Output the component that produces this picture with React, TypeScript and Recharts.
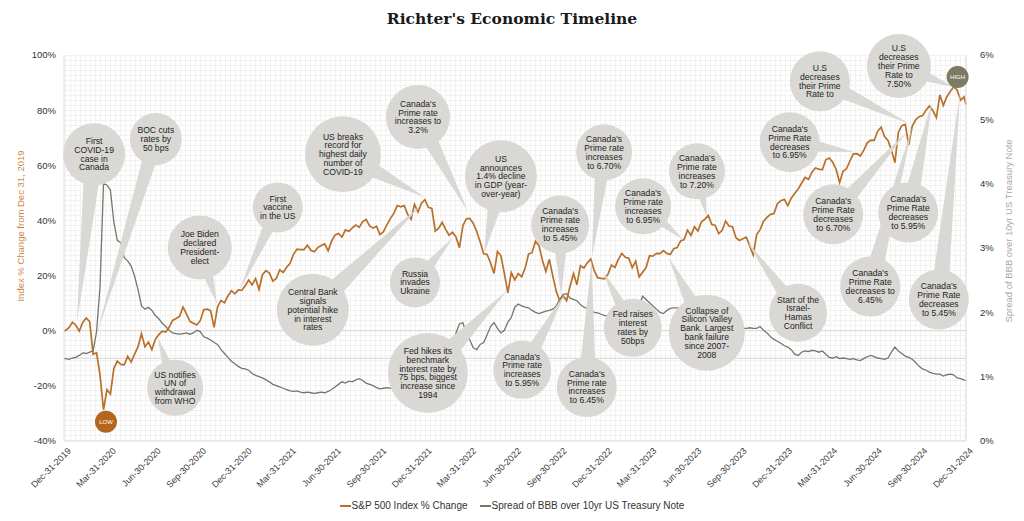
import React from 'react'
import { LineChart, Line, XAxis, YAxis, ReferenceLine, ReferenceDot, ReferenceArea } from 'recharts'

const ORANGE = '#b8702a'
const GREY = '#77756a'
const BUBBLE = '#d9d8d4'
const FONT = '"Liberation Sans", Arial, sans-serif'

const tickLabels = [
  'Dec-31-2019', 'Mar-31-2020', 'Jun-30-2020', 'Sep-30-2020', 'Dec-31-2020',
  'Mar-31-2021', 'Jun-30-2021', 'Sep-30-2021', 'Dec-31-2021', 'Mar-31-2022',
  'Jun-30-2022', 'Sep-30-2022', 'Dec-31-2022', 'Mar-31-2023', 'Jun-30-2023',
  'Sep-30-2023', 'Dec-31-2023', 'Mar-31-2024', 'Jun-30-2024', 'Sep-30-2024', 'Dec-31-2024',
]
const leftTicks = [-40, -20, 0, 20, 40, 60, 80, 100]
const rightTicks = [0, 1, 2, 3, 4, 5, 6]

const MON: Record<string, number> = { Jan: 0, Feb: 1, Mar: 2, Apr: 3, May: 4, Jun: 5, Jul: 6, Aug: 7, Sep: 8, Oct: 9, Nov: 10, Dec: 11 }
const T0 = Date.UTC(2019, 11, 31)
const toDay = (s: string) => {
  const [m, d, y] = s.split('-')
  return Math.round((Date.UTC(+y, MON[m], +d) - T0) / 86400000)
}
const tickDays = tickLabels.map(toDay)

// S&P 500 % change from Dec 31 2019, weekly (Fridays); first = Dec-31-2019, last = Dec-31-2024
const spx2020 = [0, 0.13, 1.07, 3.06, 2.0, -0.16, 3.0, 4.62, 3.31, -8.56, -8.0, -16.09, -28.66, -21.34, -22.97, -13.65, -11.03, -12.2, -12.38, -9.32, -11.36, -8.52, -5.77, -1.14, -5.86, -4.12, -6.86, -3.12, -1.42, -0.19, -0.47, 1.25, 3.73, 4.4, 5.15, 8.58, 6.07, 3.41, 2.75, 2.09, 3.64, 7.62, 7.83, 7.26, 1.21, 8.63, 10.97, 10.11, 12.62, 14.5, 13.39, 14.81, 14.62]
const spx2021 = [16.26, 18.38, 16.64, 18.9, 14.96, 20.31, 21.79, 20.92, 17.96, 18.92, 22.06, 21.12, 23.02, 24.42, 27.8, 29.55, 29.39, 29.42, 31.01, 29.19, 28.63, 30.13, 30.92, 31.47, 28.96, 32.5, 34.71, 35.25, 33.94, 36.55, 36.04, 37.32, 38.29, 37.48, 39.58, 40.38, 38.0, 37.21, 37.91, 34.86, 35.92, 38.4, 40.67, 42.55, 45.4, 44.94, 45.41, 42.21, 40.47, 45.85, 43.02, 46.27, 47.52]
const spx2022 = [44.76, 44.33, 36.13, 37.18, 39.3, 36.77, 34.61, 35.71, 33.99, 30.13, 38.14, 40.62, 40.71, 38.92, 35.96, 32.22, 27.89, 27.63, 24.55, 20.76, 28.71, 27.17, 20.74, 13.74, 21.08, 18.4, 20.69, 19.57, 22.62, 27.84, 28.3, 32.48, 30.88, 25.59, 21.46, 25.89, 19.89, 14.31, 10.98, 12.66, 10.9, 16.16, 20.75, 16.71, 23.59, 22.74, 24.62, 26.03, 21.78, 19.24, 19.01, 18.84]
const spx2023 = [20.56, 23.78, 22.96, 25.99, 28.03, 26.61, 26.26, 22.88, 25.22, 19.53, 21.23, 22.91, 27.19, 27.06, 28.07, 27.94, 29.06, 28.03, 27.65, 29.75, 30.17, 32.55, 33.06, 36.49, 34.59, 37.75, 36.16, 39.45, 40.41, 41.83, 38.61, 38.17, 35.25, 36.37, 39.77, 37.97, 37.75, 33.72, 32.72, 33.36, 33.95, 30.75, 27.44, 34.9, 36.66, 39.72, 41.12, 42.22, 42.52, 46.07, 47.17, 47.64]
const spx2024 = [45.39, 48.07, 49.8, 51.39, 53.48, 55.58, 54.93, 57.51, 59.0, 58.59, 58.38, 62.01, 62.63, 61.09, 58.58, 53.75, 57.85, 58.72, 61.65, 64.15, 64.19, 63.35, 65.5, 68.12, 69.14, 69.01, 72.32, 73.81, 70.39, 68.97, 65.49, 61.0, 71.92, 74.4, 74.83, 67.4, 74.14, 76.51, 77.61, 78.01, 79.99, 81.52, 79.77, 77.32, 85.58, 81.71, 84.77, 86.72, 88.5, 87.3, 83.57, 84.81, 82.05]

// BBB spread over 10yr UST (%), same weekly dates
const spr2020 = [1.28, 1.28, 1.27, 1.29, 1.3, 1.33, 1.37, 1.36, 1.38, 1.4, 1.7, 2.4, 4.0, 3.98, 3.9, 3.4, 3.12, 3.08, 2.85, 2.8, 2.72, 2.56, 2.35, 2.1, 2.05, 2.08, 2.03, 1.95, 1.9, 1.83, 1.78, 1.72, 1.68, 1.67, 1.66, 1.67, 1.68, 1.66, 1.68, 1.72, 1.7, 1.62, 1.6, 1.57, 1.53, 1.5, 1.42, 1.36, 1.3, 1.24, 1.2, 1.16, 1.13]
const spr2021 = [1.12, 1.1, 1.05, 1.02, 1.0, 0.98, 0.95, 0.92, 0.88, 0.86, 0.84, 0.82, 0.8, 0.78, 0.77, 0.78, 0.76, 0.75, 0.76, 0.75, 0.74, 0.75, 0.76, 0.75, 0.77, 0.8, 0.84, 0.88, 0.92, 0.9, 0.93, 0.92, 0.95, 0.97, 0.94, 0.9, 0.88, 0.86, 0.83, 0.81, 0.82, 0.83, 0.82, 0.83, 0.84, 0.85, 0.85, 0.86, 0.87, 0.86, 0.88, 0.87, 0.88]
const spr2022 = [0.9, 0.93, 0.97, 1.05, 1.15, 1.25, 1.38, 1.52, 1.68, 1.82, 1.84, 1.66, 1.57, 1.45, 1.42, 1.5, 1.53, 1.65, 1.78, 1.84, 1.75, 1.68, 1.72, 1.85, 1.92, 2.08, 2.13, 2.1, 2.08, 2.07, 2.03, 2.0, 1.98, 2.0, 2.02, 2.03, 2.05, 2.1, 2.2, 2.28, 2.29, 2.22, 2.2, 2.18, 2.12, 2.08, 2.06, 2.03, 2.0, 1.99, 1.97, 1.95]
const spr2023 = [1.95, 1.93, 1.92, 1.9, 1.88, 1.9, 1.92, 1.95, 2.0, 2.1, 2.25, 2.2, 2.15, 2.1, 2.05, 2.0, 1.98, 2.03, 2.06, 2.07, 2.07, 2.05, 2.02, 2.0, 1.97, 1.95, 1.92, 1.9, 1.88, 1.86, 1.85, 1.83, 1.82, 1.8, 1.79, 1.78, 1.77, 1.76, 1.76, 1.75, 1.75, 1.76, 1.75, 1.75, 1.78, 1.72, 1.68, 1.62, 1.58, 1.55, 1.52, 1.48]
const spr2024 = [1.46, 1.42, 1.35, 1.33, 1.38, 1.4, 1.39, 1.41, 1.4, 1.38, 1.4, 1.35, 1.3, 1.29, 1.31, 1.28, 1.29, 1.28, 1.27, 1.28, 1.26, 1.25, 1.28, 1.31, 1.33, 1.31, 1.29, 1.28, 1.27, 1.29, 1.38, 1.46, 1.4, 1.36, 1.32, 1.3, 1.27, 1.22, 1.16, 1.12, 1.1, 1.07, 1.05, 1.04, 1.04, 1.01, 1.03, 1.04, 1.03, 0.98, 0.97, 0.95, 0.94]

const spxAll = [...spx2020, ...spx2021, ...spx2022, ...spx2023, ...spx2024]
const sprAll = [...spr2020, ...spr2021, ...spr2022, ...spr2023, ...spr2024]
const lastDay = toDay('Dec-31-2024')
const data = spxAll.map((v, i) => ({
  day: i === 0 ? 0 : i === spxAll.length - 1 ? lastDay : 3 + 7 * (i - 1),
  spx: v,
  spread: sprAll[i],
}))

// callouts: bubble centre and pointer tip in (days since Dec-31-2019, % on left axis)
const callouts = [
  { lines: ['First', 'COVID-19', 'case in', 'Canada'], at: [61, 64], tip: [26, 2.9], r: 31 },
  { lines: ['BOC cuts', 'rates by', '50 bps'], at: [186, 69.5], tip: [67, -0.7], r: 26 },
  { lines: ['Joe Biden', 'declared', 'President-', 'elect'], at: [275, 30.2], tip: [310, 9.8], r: 32 },
  { lines: ['First', 'vaccine', 'in the US'], at: [433, 44.7], tip: [356, 14.9], r: 25 },
  { lines: ['US notifies', 'UN of', 'withdrawal', 'from WHO'], at: [225, -20.7], tip: [190, -2.5], r: 28 },
  { lines: ['Central Bank', 'signals', 'potential hike', 'in interest', 'rates'], at: [504, 7.6], tip: [723, 45.5], r: 36 },
  { lines: ['US breaks', 'record for', 'highest daily', 'number of', 'COVID-19'], at: [565, 64], tip: [731, 48.4], r: 38 },
  { lines: ["Canada's", 'Prime rate', 'increases to', '3.2%'], at: [717, 77.5], tip: [818, 43.3], r: 32 },
  { lines: ['Russia', 'invades', 'Ukraine'], at: [711, 17.5], tip: [788, 33.8], r: 25 },
  { lines: ['US', 'announces', '1.4% decline', 'in GDP (year-', 'over-year)'], at: [885, 56], tip: [851, 28], r: 36 },
  { lines: ["Canada's", 'Prime rate', 'increases', 'to 6.70%'], at: [1094, 64.7], tip: [1069, 26.5], r: 28 },
  { lines: ["Canada's", 'Prime rate', 'increases', 'to 5.45%'], at: [1005, 38.5], tip: [1007, 12.7], r: 29 },
  { lines: ["Canada's", 'Prime rate', 'increases', 'to 5.95%'], at: [928, -14.2], tip: [1015, 13.5], r: 29 },
  { lines: ["Canada's", 'Prime rate', 'increases', 'to 6.45%'], at: [1059, -20.4], tip: [1069, 25.8], r: 30 },
  { lines: ["Canada's", 'Prime rate', 'increases', 'to 6.95%'], at: [1173, 45.1], tip: [1254, 33.1], r: 28 },
  { lines: ['Fed raises', 'interest', 'rates by', '50bps'], at: [1152, 1.1], tip: [1092, 21.5], r: 29 },
  { lines: ['Fed hikes its', 'benchmark', 'interest rate by', '75 bps, biggest', 'increase since', '1994'], at: [737, -15.3], tip: [897, 14.5], r: 40 },
  { lines: ['Collapse of', 'Silicon Valley', 'Bank. Largest', 'bank failure', 'since 2007-', '2008'], at: [1302, -0.7], tip: [1225, 26.5], r: 38 },
  { lines: ["Canada's", 'Prime rate', 'increases', 'to 7.20%'], at: [1282, 57.8], tip: [1302, 41.5], r: 28 },
  { lines: ['Start of the', 'Israel-', 'Hamas', 'Conflict'], at: [1487, 6.5], tip: [1385, 32], r: 29 },
  { lines: ["Canada's", 'Prime Rate', 'decreases', 'to 6.95%'], at: [1470, 68.4], tip: [1602, 64.7], r: 30 },
  { lines: ["Canada's", 'Prime Rate', 'decreases', 'to 6.70%'], at: [1558, 42.2], tip: [1707, 72], r: 30 },
  { lines: ['U.S', 'decreases', 'their Prime', 'Rate to'], at: [1531, 90.5], tip: [1714, 74.9], r: 30 },
  { lines: ['U.S', 'decreases', 'their Prime', 'Rate to', '7.50%'], at: [1691, 96], tip: [1801, 88.4], r: 32 },
  { lines: ["Canada's", 'Prime Rate', 'decreases', 'to 5.95%'], at: [1710, 42.9], tip: [1758, 82.9], r: 30 },
  { lines: ["Canada's", 'Prime Rate', 'decreases to', '6.45%'], at: [1633, 16], tip: [1718, 73.8], r: 30 },
  { lines: ["Canada's", 'Prime Rate', 'decreases', 'to 5.45%'], at: [1772, 11.3], tip: [1815, 86.5], r: 30 },
]

function BubbleShape(props: any) {
  const { x1, y1, x2, y2, r } = props
  const dx = x2 - x1
  const dy = y2 - y1
  const len = Math.hypot(dx, dy) || 1
  const nx = -dy / len
  const ny = dx / len
  const w = r * 0.3
  return (
    <g>
      <polygon
        points={`${x1},${y1} ${x2 + nx * w},${y2 + ny * w} ${x2 - nx * w},${y2 - ny * w}`}
        fill={BUBBLE}
      />
      <circle cx={x2} cy={y2} r={r} fill={BUBBLE} />
    </g>
  )
}

function BubbleText(props: any) {
  const { x2, y2, lines } = props
  const lh = 8.8
  const top = y2 - ((lines.length - 1) * lh) / 2
  return (
    <text textAnchor="middle" fontSize={8.6} fill="#1e1e1e" fontFamily={FONT}>
      {lines.map((t: string, i: number) => (
        <tspan key={i} x={x2} y={top + i * lh} dy="0.35em">{t}</tspan>
      ))}
    </text>
  )
}

function Marker({ cx, cy, fill, label }: any) {
  return (
    <g>
      <circle cx={cx} cy={cy} r={11} fill={fill} />
      <text x={cx} y={cy} dy="0.35em" textAnchor="middle" fontSize={6} fill="#fff" fontFamily={FONT}>{label}</text>
    </g>
  )
}

export default function App() {
  return (
    <div style={{ position: 'absolute', left: 0, top: 0, width: 1024, height: 521, background: '#fff', fontFamily: FONT }}>
      <div style={{
        position: 'absolute', top: 9, left: 0, width: 1024, textAlign: 'center',
        fontFamily: '"DejaVu Serif", Georgia, serif', fontWeight: 'bold', fontSize: 15.5, color: '#1a1a1a',
      }}>
        Richter's Economic Timeline
      </div>

      <div style={{
        position: 'absolute', left: 20, top: 226, transform: 'translate(-50%, -50%) rotate(-90deg)',
        whiteSpace: 'nowrap', fontSize: 9.5, color: '#c98a45',
      }}>
        Index % Change from Dec 31, 2019
      </div>
      <div style={{
        position: 'absolute', left: 1008, top: 231, transform: 'translate(-50%, -50%) rotate(-90deg)',
        whiteSpace: 'nowrap', fontSize: 9.5, color: '#a9a9a9',
      }}>
        Spread of BBB over 10yr US Treasury Note
      </div>

      <div style={{ position: 'absolute', left: 0, top: 0, opacity: 0.999 }}>
        <LineChart width={1024} height={521} data={data} margin={{ top: 55, right: 8, bottom: 30, left: 14 }}>
          <defs>
            <pattern id="bggrid" width="5" height="5" patternUnits="userSpaceOnUse">
              <rect width="5" height="5" fill="#ffffff" />
              <path d="M0 0.5 H5 M0.5 0 V5" stroke="#f2f2f2" strokeWidth={1} fill="none" />
            </pattern>
          </defs>
          <ReferenceArea yAxisId="left" x1={0} x2={lastDay} y1={-40} y2={100} fill="url(#bggrid)" fillOpacity={1} stroke="none" zIndex={-200} />
          <XAxis
            dataKey="day"
            type="number"
            domain={[0, lastDay]}
            ticks={tickDays}
            interval={0}
            tickFormatter={(d: number) => tickLabels[tickDays.indexOf(d)]}
            angle={-45}
            textAnchor="end"
            tick={{ fontSize: 9, fill: '#3c3c3c', fontFamily: FONT, dx: 3, dy: -2 }}
            tickLine={false}
            axisLine={{ stroke: '#dcdcdc' }}
            height={50}
          />
          <YAxis
            yAxisId="left"
            domain={[-40, 100]}
            ticks={leftTicks}
            tickFormatter={(v: number) => `${v}%`}
            tick={{ fontSize: 9.5, fill: '#333', fontFamily: FONT }}
            tickLine={false}
            axisLine={{ stroke: '#dcdcdc' }}
            width={50}
          />
          <YAxis
            yAxisId="right"
            orientation="right"
            domain={[0, 6]}
            ticks={rightTicks}
            tickFormatter={(v: number) => `${v}%`}
            tick={{ fontSize: 9.5, fill: '#333', fontFamily: FONT }}
            tickLine={false}
            axisLine={{ stroke: '#dcdcdc' }}
            tickMargin={8}
            width={50}
          />
          <ReferenceLine yAxisId="left" y={0} stroke="#d6d6d6" />
          <ReferenceLine yAxisId="left" y={-10} stroke="#d6d6d6" />

          <Line yAxisId="right" dataKey="spread" stroke={GREY} strokeWidth={1.3} dot={false} isAnimationActive={false} />
          <Line yAxisId="left" dataKey="spx" stroke={ORANGE} strokeWidth={1.7} dot={false} isAnimationActive={false} />

          {callouts.map((c, i) => (
            <ReferenceLine
              key={`b${i}`}
              yAxisId="left"
              ifOverflow="visible"
              zIndex={1500}
              segment={[{ x: c.tip[0], y: c.tip[1] }, { x: c.at[0], y: c.at[1] }]}
              shape={(p: any) => <BubbleShape {...p} r={c.r} />}
            />
          ))}
          {callouts.map((c, i) => (
            <ReferenceLine
              key={`t${i}`}
              yAxisId="left"
              ifOverflow="visible"
              zIndex={1550}
              segment={[{ x: c.tip[0], y: c.tip[1] }, { x: c.at[0], y: c.at[1] }]}
              shape={(p: any) => <BubbleText {...p} lines={c.lines} />}
            />
          ))}

          <ReferenceDot yAxisId="left" x={85} y={-33} ifOverflow="visible" zIndex={1600}
            shape={(p: any) => <Marker {...p} fill="#b4661f" label="LOW" />} />
          <ReferenceDot yAxisId="left" x={1810} y={92} ifOverflow="visible" zIndex={1600}
            shape={(p: any) => <Marker {...p} fill="#7d7a64" label="HIGH" />} />
        </LineChart>
      </div>

      <div style={{
        position: 'absolute', top: 500, left: 0, width: 1024, display: 'flex', justifyContent: 'center',
        gap: 12, fontSize: 10, color: '#333',
      }}>
        <span style={{ display: 'flex', alignItems: 'center' }}>
          <span style={{ width: 11, height: 2, background: ORANGE, display: 'inline-block', marginRight: 1 }} />
          S&amp;P 500 Index % Change
        </span>
        <span style={{ display: 'flex', alignItems: 'center' }}>
          <span style={{ width: 11, height: 2, background: GREY, display: 'inline-block', marginRight: 1 }} />
          Spread of BBB over 10yr US Treasury Note
        </span>
      </div>
    </div>
  )
}
